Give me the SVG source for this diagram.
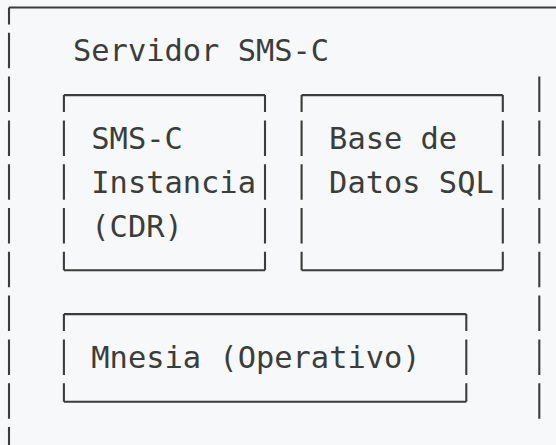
<svg xmlns="http://www.w3.org/2000/svg" width="556" height="445" viewBox="0 0 556 445">
  <style>
    .bg { fill: #f6f8fa; }
    .h { stroke: #3b3d3a; stroke-width: 2.1; fill: none; stroke-linecap: butt; }
    .v { stroke: #3b3d3a; stroke-width: 2.1; fill: none; stroke-dasharray: 35.5 8.3; stroke-dashoffset: 18.5; }
    .vr { stroke: #3b3d3a; stroke-width: 2.1; fill: none; stroke-dasharray: 35.5 8.3; }
    .t { font-family: "DejaVu Sans Mono", "Liberation Mono", monospace; font-size: 30.4px; fill: #3b3d3a; }
  </style>
  <rect class="bg" x="0" y="0" width="556" height="445"/>

  <g id="servidor-sms-c">
    <path class="h" d="M9 7.5 H556"/>
    <path class="v" d="M9 7.5 V445"/>
    <path class="vr" d="M539.3 76.6 V418.7"/>
    <text class="t" x="73" y="61.3">Servidor SMS-C</text>
  </g>

  <g id="sms-c-instancia">
    <path class="h" d="M63.9 95.1 H265 M63.9 270.3 H265"/>
    <path class="v" d="M63.9 95.1 V270.3"/>
    <path class="v" d="M265 95.1 V270.3"/>
    <text class="t" x="91.3" y="148.9">SMS-C</text>
    <text class="t" x="91.3" y="192.7">Instancia</text>
    <text class="t" x="91.3" y="236.5">(CDR)</text>
  </g>

  <g id="base-de-datos-sql">
    <path class="h" d="M301.6 95.1 H502.8 M301.6 270.3 H502.8"/>
    <path class="v" d="M301.6 95.1 V270.3"/>
    <path class="v" d="M502.8 95.1 V270.3"/>
    <text class="t" x="329.1" y="148.9">Base de</text>
    <text class="t" x="329.1" y="192.7">Datos SQL</text>
  </g>

  <g id="mnesia-operativo">
    <path class="h" d="M63.9 314.1 H466.3 M63.9 401.7 H466.3"/>
    <path class="v" d="M63.9 314.1 V401.7"/>
    <path class="v" d="M466.3 314.1 V401.7"/>
    <text class="t" x="91.3" y="367.9">Mnesia (Operativo)</text>
  </g>

  <g id="connectors"/>
</svg>
